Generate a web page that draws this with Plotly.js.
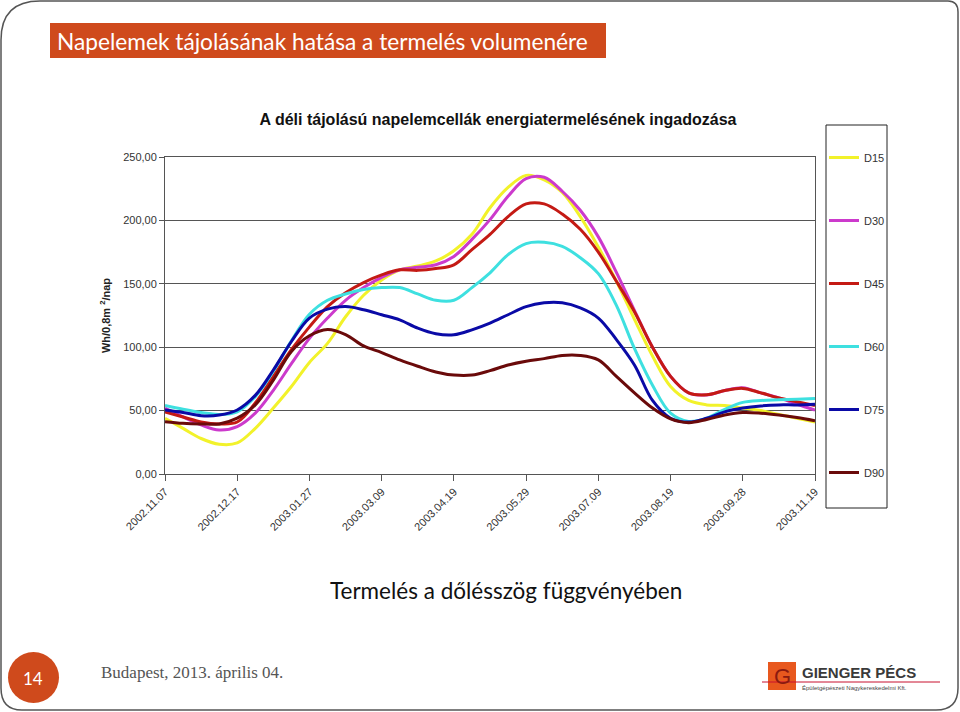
<!DOCTYPE html>
<html>
<head>
<meta charset="utf-8">
<script src="https://cdn.plot.ly/plotly-3.0.1.min.js"></script>
<style>
html,body{margin:0;padding:0;background:#fff;}
#chart{width:960px;height:712px;}
</style>
</head>
<body>
<div id="chart"></div>
<script>
// ---- data ----
const dates = [
  "2002.11.07","2002.11.17","2002.11.27","2002.12.07","2002.12.17","2002.12.27",
  "2003.01.06","2003.01.16","2003.01.27","2003.02.06","2003.02.16","2003.02.26",
  "2003.03.09","2003.03.19","2003.03.29","2003.04.08","2003.04.19","2003.04.29",
  "2003.05.09","2003.05.19","2003.05.29","2003.06.08","2003.06.18","2003.06.28",
  "2003.07.09","2003.07.19","2003.07.29","2003.08.08","2003.08.19","2003.08.29",
  "2003.09.08","2003.09.18","2003.09.28","2003.10.11","2003.10.24","2003.11.06",
  "2003.11.19"
];
const tickDates = ["2002.11.07","2002.12.17","2003.01.27","2003.03.09","2003.04.19",
  "2003.05.29","2003.07.09","2003.08.19","2003.09.28","2003.11.19"];
const seriesNames = ["D15","D30","D45","D60","D75","D90"];
const D15 = [44,36,28,23.5,24.5,36,52,69,88,103,124,141,153,161,164,168,176,189,210,226,235.5,232,222,203,179,152,122,93,69,58,54.5,54,52,50,47,44,41];
const D30 = [52,45,38.7,34.7,37.4,48,66,87,107,123,137,147,155,161,163,165,171.6,185,200.6,219,233,234,223,208,187,159,129,100,77,64,62.4,65.8,68,64,60,55,50.5];
const D45 = [49,45,41,39.5,41,56,77,98,116,132,143,151,157,161,160.6,162,165,177,189,203,213,213,205,193,175,152,128,100,77,64,62.5,65.8,67.5,64,60,57,54];
const D60 = [54,51,48.5,47,49,61,81,105,126,137,142,145.5,147,147,142,137,137,147,158.7,173,181.7,182.7,179.5,170.6,158,133,99,70,48,41.5,44,51,56.5,58,58.5,59,59.5];
const D75 = [50.5,48.5,46,46.5,50.5,62,82,104.5,123,130,132,129.5,125.6,121.6,115,110.6,109.8,113.7,119,125.6,132,135,135,131,123,106,86,58,44,41,44,49,52,53.7,54.5,54.5,55];
const D90 = [41.3,40,39.5,39.5,44,54.5,74,96.6,109,114,110,101,95.8,90,85,80.5,78,78,81.5,86,89,91,93.5,93.5,90,77,64,52,43.5,40.5,43,46.5,48.5,48,46.5,44.5,42];
const seriesValues = [D15,D30,D45,D60,D75,D90];
const seriesColors = ["#F2F22A","#CC3ACC","#C41A14","#3EE0E0","#0A0AA6","#6A0A0A"];

// ---- geometry helpers (pixel -> paper) ----
const L = 165, R = 815, T = 157, B = 474;
const W = 960, H = 712;
const px = x => (x - L) / (R - L);
const py = y => (B - y) / (B - T);

const traces = seriesNames.map((n, i) => ({
  type: "scatter", mode: "lines", name: n,
  x: dates, y: seriesValues[i],
  line: {color: seriesColors[i], width: 3, shape: "spline", smoothing: 1},
  legendgroup: n, hoverinfo: "skip"
}));

const orange = "#CF4A1C";
const shapes = [
  // legend box
  {type:"rect", xref:"paper", yref:"paper", x0:px(826), x1:px(887), y0:py(125), y1:py(508),
   fillcolor:"rgba(0,0,0,0)", line:{color:"#222", width:1}},
  // slide title bar
  {type:"rect", xref:"paper", yref:"paper", x0:px(50), x1:px(606), y0:py(23), y1:py(58),
   fillcolor:orange, line:{width:0}},
  // page number circle
  {type:"circle", xref:"paper", yref:"paper", x0:px(8), x1:px(59), y0:py(652), y1:py(703),
   fillcolor:orange, line:{width:0}},
  // logo square
  {type:"rect", xref:"paper", yref:"paper", x0:px(768), x1:px(796), y0:py(662), y1:py(690),
   fillcolor:"#E8581E", line:{width:0}},
  // logo underline
  {type:"line", xref:"paper", yref:"paper", x0:px(762), x1:px(940), y0:py(682), y1:py(682),
   line:{color:"#C8102E", width:1}},
  // slide border (rounded)
  {type:"path", xref:"paper", yref:"paper",
   path: "M " + px(1) + "," + py(40) +
         " Q " + px(1) + "," + py(1) + " " + px(40) + "," + py(1) +
         " L " + px(948) + "," + py(1) +
         " Q " + px(958) + "," + py(1) + " " + px(958) + "," + py(12) +
         " L " + px(958) + "," + py(688) +
         " Q " + px(958) + "," + py(710) + " " + px(936) + "," + py(710) +
         " L " + px(22) + "," + py(710) +
         " Q " + px(1) + "," + py(710) + " " + px(1) + "," + py(688) + " Z",
   line:{color:"#555", width:1.5}, fillcolor:"rgba(0,0,0,0)"}
];

const ann = (x, y, text, font, xanchor, yanchor) => ({
  xref:"paper", yref:"paper", x:px(x), y:py(y), text:text, showarrow:false,
  font:font, xanchor:xanchor || "left", yanchor:yanchor || "middle"
});
const annotations = [
  ann(55, 41, "Napelemek tájolásának hatása a termelés volumenére",
      {family:"Lato, 'Open Sans', sans-serif", size:22.7, color:"#fff"}),
  ann(506, 590, "Termelés a dőlésszög függvényében",
      {family:"Lato, 'Open Sans', sans-serif", size:22.5, color:"#111"}, "center"),
  ann(33, 678, "14", {family:"Lato, sans-serif", size:17, color:"#fff"}, "center"),
  ann(99, 672, "Budapest, 2013. április 04.",
      {family:"'Liberation Serif', serif", size:17, color:"#555"}),
  ann(782, 676, "G", {family:"'Liberation Sans', sans-serif", size:22, color:"#8B1A10"}, "center"),
  ann(800, 672, "<b>GIENGER PÉCS</b>",
      {family:"'Liberation Sans', sans-serif", size:15, color:"#3A3A3A"}),
  ann(800, 688, "Épületgépészeti Nagykereskedelmi Kft.",
      {family:"'Liberation Sans', sans-serif", size:6, color:"#444"})
];

const layout = {
  width: W, height: H,
  margin: {l: L, r: W - R, t: T, b: H - B, pad: 0},
  paper_bgcolor: "#fff", plot_bgcolor: "rgba(0,0,0,0)",
  separators: ", ",
  font: {family: "'Liberation Sans', Arial, sans-serif", size: 11, color: "#333"},
  title: {
    text: "<b>A déli tájolású napelemcellák energiatermelésének ingadozása</b>",
    font: {family: "'Liberation Sans', Arial, sans-serif", size: 16, color: "#111"},
    xref: "paper", x: px(498), xanchor: "center",
    yref: "container", y: 1 - 119 / H, yanchor: "middle"
  },
  xaxis: {
    type: "category", range: [0, dates.length - 1],
    tickmode: "array", tickvals: tickDates, ticktext: tickDates,
    tickangle: -45, ticks: "outside", ticklen: 6, tickcolor: "#555",
    showgrid: false, showline: true, linecolor: "#555", linewidth: 1,
    mirror: true, zeroline: false,
    tickfont: {size: 11, color: "#333"}
  },
  yaxis: {
    range: [0, 250], dtick: 50, tick0: 0, tickformat: ".2f",
    ticks: "outside", ticklen: 5, tickcolor: "#555",
    showgrid: true, gridcolor: "#555", gridwidth: 1,
    showline: true, linecolor: "#555", linewidth: 1, mirror: true, zeroline: false,
    tickfont: {size: 11, color: "#333"},
    title: {text: "<b>Wh/0,8m <sup>2</sup>/nap</b>", font: {size: 11, color: "#222"}, standoff: 10}
  },
  showlegend: true,
  legend: {
    x: px(824), xanchor: "left", y: py(143), yanchor: "top",
    bgcolor: "rgba(255,255,255,0)", borderwidth: 0,
    font: {size: 11, color: "#333"},
    tracegroupgap: 44, itemwidth: 30, traceorder: "grouped"
  },
  shapes: shapes,
  annotations: annotations
};

Plotly.newPlot("chart", traces, layout, {displayModeBar: false, staticPlot: true});
</script>
</body>
</html>
